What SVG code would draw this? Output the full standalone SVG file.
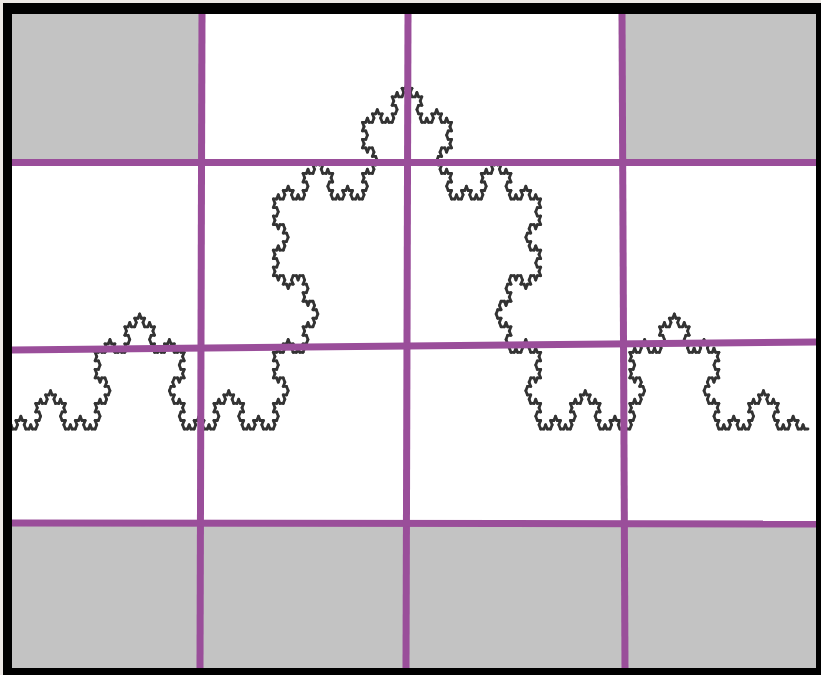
<svg xmlns="http://www.w3.org/2000/svg" xmlns:xlink="http://www.w3.org/1999/xlink" width="821" height="675" viewBox="0 0 821 675">
<style>
.cell{fill:#c3c3c3}
.grid{stroke:#9a4e9a;stroke-width:7;fill:none}
.seg{stroke:#333;stroke-width:2.8;stroke-linecap:round;fill:none}
</style>
<defs>
<path id="k0" class="seg" d="M0 0 H1" vector-effect="non-scaling-stroke"/>
<g id="k1">
<use href="#k0" transform="scale(0.33333333)"/>
<use href="#k0" transform="translate(0.33333333 0) rotate(-60) scale(0.33333333)"/>
<use href="#k0" transform="translate(0.5 -0.28867513) rotate(60) scale(0.33333333)"/>
<use href="#k0" transform="translate(0.66666667 0) scale(0.33333333)"/>
</g>
<g id="k2">
<use href="#k1" transform="scale(0.33333333)"/>
<use href="#k1" transform="translate(0.33333333 0) rotate(-60) scale(0.33333333)"/>
<use href="#k1" transform="translate(0.5 -0.28867513) rotate(60) scale(0.33333333)"/>
<use href="#k1" transform="translate(0.66666667 0) scale(0.33333333)"/>
</g>
<g id="k3">
<use href="#k2" transform="scale(0.33333333)"/>
<use href="#k2" transform="translate(0.33333333 0) rotate(-60) scale(0.33333333)"/>
<use href="#k2" transform="translate(0.5 -0.28867513) rotate(60) scale(0.33333333)"/>
<use href="#k2" transform="translate(0.66666667 0) scale(0.33333333)"/>
</g>
<g id="k4">
<use href="#k3" transform="scale(0.33333333)"/>
<use href="#k3" transform="translate(0.33333333 0) rotate(-60) scale(0.33333333)"/>
<use href="#k3" transform="translate(0.5 -0.28867513) rotate(60) scale(0.33333333)"/>
<use href="#k3" transform="translate(0.66666667 0) scale(0.33333333)"/>
</g>
<g id="k5">
<use href="#k4" transform="scale(0.33333333)"/>
<use href="#k4" transform="translate(0.33333333 0) rotate(-60) scale(0.33333333)"/>
<use href="#k4" transform="translate(0.5 -0.28867513) rotate(60) scale(0.33333333)"/>
<use href="#k4" transform="translate(0.66666667 0) scale(0.33333333)"/>
</g>
<clipPath id="inner"><rect x="12" y="14" width="804" height="654"/></clipPath>
</defs>
<rect width="821" height="675" fill="#ece8e4"/>
<rect x="3" y="3" width="818" height="672" fill="#000"/>
<rect x="12" y="14" width="804" height="654" fill="#fff"/>
<g id="cells">
<rect class="cell" x="12" y="14" width="189" height="148"/>
<rect class="cell" x="623" y="14" width="193" height="148"/>
<rect class="cell" x="12" y="524" width="804" height="144"/>
</g>
<g id="koch" clip-path="url(#inner)">
<use href="#k5" transform="translate(6 429) scale(802 1195)"/>
</g>
<g id="grid" class="grid" clip-path="url(#inner)">
<line x1="202" y1="14" x2="200" y2="668"/>
<line x1="408" y1="14" x2="406" y2="668"/>
<line x1="622" y1="14" x2="625" y2="668"/>
<line x1="12" y1="162.5" x2="816" y2="162.5"/>
<line x1="12" y1="350" x2="816" y2="342"/>
<line x1="12" y1="523" x2="816" y2="524"/>
</g>
</svg>
